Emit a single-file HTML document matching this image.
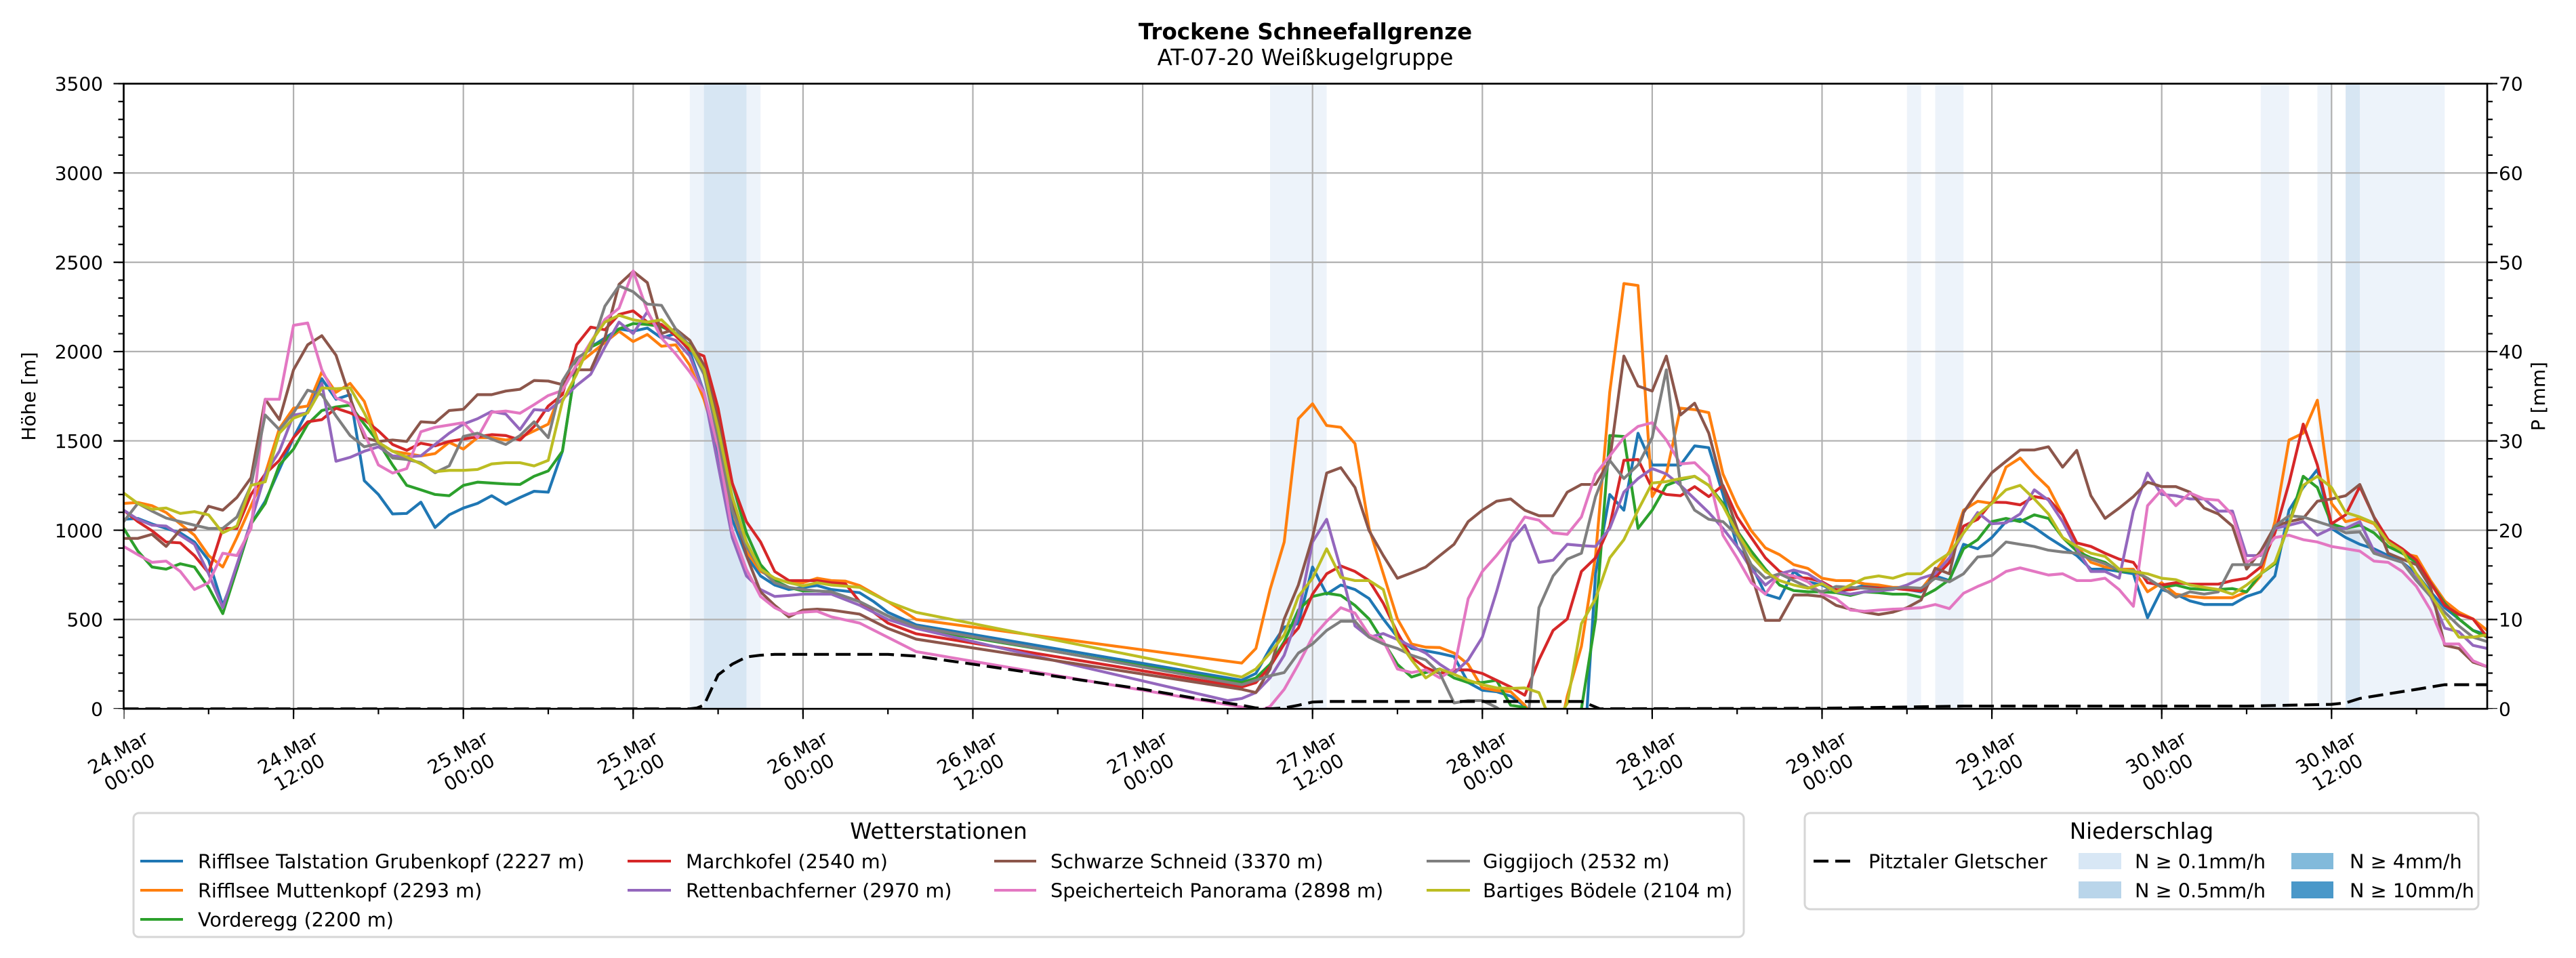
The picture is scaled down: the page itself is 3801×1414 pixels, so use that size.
<!DOCTYPE html>
<html><head><meta charset="utf-8"><style>html,body{margin:0;padding:0;background:#fff}svg{display:block}</style></head>
<body>
<svg xmlns="http://www.w3.org/2000/svg" width="3801" height="1414" viewBox="0 0 3801 1414" font-family="'DejaVu Sans','Liberation Sans',sans-serif">
<defs><clipPath id="c"><rect x="182.5" y="123.5" width="3487.5" height="922.7"/></clipPath></defs>
<rect width="3801" height="1414" fill="#fff"/>
<!-- precipitation bands -->
<g fill="#edf3fa">
<rect x="1017.8" y="123.5" width="104.4" height="922.7"/>
<rect x="1874" y="123.5" width="83.6" height="922.7"/>
<rect x="2813.8" y="123.5" width="20.8" height="922.7"/>
<rect x="2855.5" y="123.5" width="41.8" height="922.7"/>
<rect x="3335.8" y="123.5" width="41.8" height="922.7"/>
<rect x="3419.4" y="123.5" width="20.8" height="922.7"/>
<rect x="3482" y="123.5" width="125.3" height="922.7"/>
</g>
<g fill="#d7e6f3">
<rect x="1038.7" y="123.5" width="62.7" height="922.7"/>
<rect x="3461.1" y="123.5" width="20.9" height="922.7"/>
</g>
<!-- grid -->
<g stroke="#b0b0b0" stroke-width="2.2" fill="none">
<path d="M433.1,123.5V1046.2M683.7,123.5V1046.2M934.3,123.5V1046.2M1184.9,123.5V1046.2M1435.5,123.5V1046.2M1686.1,123.5V1046.2M1936.7,123.5V1046.2M2187.3,123.5V1046.2M2437.9,123.5V1046.2M2688.5,123.5V1046.2M2939.1,123.5V1046.2M3189.7,123.5V1046.2M3440.3,123.5V1046.2"/>
<path d="M182.5,914.4H3670M182.5,782.6H3670M182.5,650.7H3670M182.5,518.9H3670M182.5,387.1H3670M182.5,255.3H3670"/>
</g>
<!-- series -->
<g clip-path="url(#c)">
<g transform="translate(182.5,1046.2) scale(20.883,-0.26363)" fill="none" stroke-width="4.2" stroke-linejoin="round" stroke-linecap="square">
<polyline vector-effect="non-scaling-stroke" stroke="#1f77b4" points="0,1061 1,1066 2,1035 3,1010 4,985 5,934 6,832 7,579 8,782 9,1035 10,1162 11,1340 12,1518 13,1670 14,1848 15,1733 16,1759 17,1277 18,1200 19,1091 20,1094 21,1157 22,1015 23,1086 24,1124 25,1150 26,1193 27,1145 28,1183 29,1218 30,1213 31,1442 32,1949 33,2025 34,2076 35,2127 36,2114 37,2132 38,2076 39,2101 40,2000 41,1772 42,1442 43,1061 44,858 45,744 46,693 47,668 48,680 49,690 50,668 52,650 53,600 54,540 56,470 79,160 80,198 81,338 82,457 83,477 84,794 85,642 86,693 87,668 88,617 89,503 90,401 91,338 92,325 93,310 94,292 95,147 96,104 97,96 98,71 99,15 100,-100 101,-100 102,-100 103,-500 104,756 105,1200 106,1112 107,1543 108,1365 109,1365 110,1365 111,1472 112,1462 113,1200 114,909 115,807 116,642 117,617 118,769 119,711 120,693 121,655 122,668 123,693 124,680 125,675 126,668 127,655 128,744 129,718 130,921 131,896 132,959 133,1048 134,1061 135,1015 136,959 137,909 138,858 139,782 140,782 141,769 142,756 143,510 144,668 145,642 146,604 147,584 148,584 149,584 150,629 151,655 152,744 153,1112 154,1239 155,1340 156,1010 157,959 158,921 159,896 160,858 161,820 162,756 163,655 164,566 165,503 166,439 167,414"/>
<polyline vector-effect="non-scaling-stroke" stroke="#ff7f0e" points="0,1150 1,1155 2,1137 3,1099 4,1035 5,972 6,858 7,794 8,959 9,1137 10,1315 11,1569 12,1683 13,1695 14,1886 15,1772 16,1822 17,1721 18,1492 19,1442 20,1429 21,1416 22,1429 23,1492 24,1454 25,1518 26,1518 27,1505 28,1518 29,1556 30,1594 31,1797 32,1924 33,1987 34,2051 35,2114 36,2056 37,2096 38,2030 39,2038 40,1924 41,1733 42,1467 43,1112 44,883 45,770 46,731 47,706 48,706 49,731 50,718 51,715 52,690 54,600 56,500 79,256 80,338 81,668 82,934 83,1624 84,1708 85,1586 86,1576 87,1485 88,1010 89,756 90,503 91,363 92,345 93,343 94,312 95,249 96,117 97,102 98,96 99,20 100,-100 101,-300 102,71 103,350 104,858 105,1772 106,2381 107,2370 108,1188 109,1315 110,1683 111,1675 112,1658 113,1315 114,1137 115,997 116,901 117,863 118,807 119,786 120,731 121,718 122,718 123,700 124,693 125,680 126,680 127,668 128,769 129,880 130,1112 131,1162 132,1150 133,1353 134,1404 135,1315 136,1239 137,1086 138,909 139,820 140,794 141,782 142,782 143,655 144,706 145,642 146,629 147,622 148,622 149,622 150,655 151,744 152,1048 153,1505 154,1543 155,1728 156,1150 157,1048 158,1066 159,1036 160,934 161,871 162,853 163,718 164,604 165,541 166,503 167,439"/>
<polyline vector-effect="non-scaling-stroke" stroke="#2ca02c" points="0,1010 1,883 2,794 3,782 4,812 5,794 6,680 7,533 8,782 9,1035 10,1150 11,1365 12,1454 13,1594 14,1670 15,1690 16,1700 17,1594 18,1492 19,1365 20,1251 21,1226 22,1200 23,1193 24,1251 25,1269 26,1264 27,1259 28,1256 29,1302 30,1332 31,1442 32,1949 33,2025 34,2063 35,2127 36,2157 37,2152 38,2140 39,2101 40,2038 41,1924 42,1619 43,1264 44,985 45,807 46,718 47,680 48,660 49,660 50,655 52,600 53,560 54,520 56,450 79,147 80,173 81,249 82,376 83,553 84,629 85,647 86,635 87,579 88,503 89,376 90,249 91,178 92,203 93,223 94,173 95,147 96,147 97,160 98,20 99,8 100,-100 101,-100 102,-100 103,0 104,500 105,1530 106,1525 107,1010 108,1112 109,1251 110,1282 111,1302 112,1251 113,1150 114,997 115,883 116,782 117,693 118,662 119,655 120,655 121,650 122,635 123,655 124,650 125,642 126,642 127,624 128,667 129,723 130,896 131,947 132,1048 133,1066 134,1048 135,1086 136,1066 137,959 138,883 139,845 140,820 141,769 142,769 143,731 144,680 145,693 146,673 147,668 148,668 149,673 150,655 151,756 152,812 153,1036 154,1302 155,1239 156,1036 157,1010 158,1028 159,985 160,909 161,871 162,820 163,706 164,591 165,503 166,439 167,401"/>
<polyline vector-effect="non-scaling-stroke" stroke="#d62728" points="0,1112 1,1048 2,997 3,934 4,929 5,858 6,761 7,1010 8,1010 9,1200 10,1315 11,1391 12,1518 13,1607 14,1619 15,1683 16,1657 17,1619 18,1556 19,1480 20,1447 21,1487 22,1472 23,1497 24,1510 25,1523 26,1535 27,1530 28,1505 29,1581 30,1695 31,1759 32,2038 33,2137 34,2122 35,2208 36,2228 37,2165 38,2152 39,2089 40,2008 41,1975 42,1683 43,1264 44,1048 45,934 46,769 47,718 48,718 49,718 50,706 51,700 52,600 54,480 56,420 79,122 80,147 81,236 82,363 83,452 84,642 85,756 86,800 87,769 88,718 89,591 90,426 91,287 92,231 93,198 94,218 95,218 96,198 97,160 98,122 99,76 100,274 101,439 102,503 103,769 104,845 105,1023 106,1391 107,1396 108,1234 109,1200 110,1193 111,1244 112,1188 113,1251 114,1074 115,959 116,845 117,769 118,736 119,731 120,711 121,667 122,667 123,680 124,675 125,675 126,667 127,660 128,736 129,820 130,1023 131,1061 132,1157 133,1155 134,1142 135,1188 136,1175 137,1086 138,929 139,909 140,871 141,838 142,820 143,706 144,693 145,706 146,698 147,698 148,698 149,718 150,731 151,794 152,985 153,1264 154,1594 155,1365 156,1036 157,1086 158,1244 159,1074 160,947 161,896 162,832 163,706 164,579 165,528 166,503 167,401"/>
<polyline vector-effect="non-scaling-stroke" stroke="#9467bd" points="0,1112 1,1061 2,1028 3,1023 4,972 5,921 6,756 7,566 8,807 9,1048 10,1315 11,1442 12,1645 13,1657 14,1822 15,1386 16,1408 17,1442 18,1467 19,1416 20,1411 21,1416 22,1480 23,1543 24,1594 25,1624 26,1665 27,1650 28,1563 29,1675 30,1670 31,1733 32,1810 33,1873 34,2025 35,2165 36,2101 37,2223 38,2089 39,2063 40,1975 41,1772 42,1365 43,959 44,744 45,668 46,629 47,635 48,642 49,642 50,642 52,580 54,500 56,450 78,46 79,58 80,91 81,173 82,300 83,528 84,934 85,1061 86,782 87,464 88,401 89,421 90,388 91,350 92,312 93,249 94,198 95,274 96,401 97,655 98,934 99,1028 100,820 101,832 102,921 103,914 104,909 105,1010 106,1213 107,1289 108,1345 109,1315 110,1251 111,1175 112,1099 113,1010 114,909 115,782 116,693 117,756 118,777 119,756 120,706 121,655 122,642 123,655 124,660 125,668 126,693 127,731 128,756 129,845 130,985 131,1099 132,1036 133,1041 134,1091 135,1226 136,1168 137,1048 138,896 139,769 140,769 141,731 142,1107 143,1320 144,1200 145,1193 146,1175 147,1175 148,1107 149,1107 150,858 151,858 152,1010 153,1028 154,1048 155,972 156,1010 157,1010 158,1048 159,883 160,845 161,820 162,731 163,629 164,452 165,431 166,355 167,338"/>
<polyline vector-effect="non-scaling-stroke" stroke="#8c564b" points="0,954 1,954 2,977 3,909 4,1002 5,1002 6,1134 7,1112 8,1183 9,1294 10,1733 11,1619 12,1898 13,2038 14,2089 15,1980 16,1741 17,1518 18,1497 19,1505 20,1497 21,1607 22,1602 23,1670 24,1677 25,1759 26,1759 27,1779 28,1789 29,1838 30,1835 31,1815 32,1898 33,1898 34,2076 35,2376 36,2449 37,2386 38,2101 39,2127 40,2063 41,1924 42,1619 43,1162 44,858 45,655 46,579 47,515 48,553 49,558 50,553 52,530 54,450 56,390 79,109 80,91 81,223 82,503 83,693 84,959 85,1320 86,1350 87,1239 88,997 89,858 90,731 91,761 92,794 93,858 94,921 95,1048 96,1112 97,1162 98,1175 99,1112 100,1081 101,1081 102,1213 103,1256 104,1256 105,1391 106,1975 107,1807 108,1779 109,1975 110,1645 111,1711 112,1543 113,1239 114,1010 115,756 116,495 117,495 118,637 119,637 120,629 121,579 122,558 123,541 124,528 125,541 126,566 127,609 128,787 129,756 130,1099 131,1218 132,1322 133,1386 134,1449 135,1449 136,1467 137,1353 138,1447 139,1193 140,1066 141,1124 142,1188 143,1269 144,1244 145,1244 146,1213 147,1124 148,1091 149,1023 150,782 151,883 152,1023 153,1048 154,1066 155,1162 156,1175 157,1193 158,1256 159,1074 160,871 161,838 162,807 163,680 164,355 165,338 166,261 167,236"/>
<polyline vector-effect="non-scaling-stroke" stroke="#e377c2" points="0,909 1,863 2,820 3,827 4,769 5,668 6,706 7,871 8,858 9,1010 10,1733 11,1733 12,2147 13,2160 14,1898 15,1741 16,1708 17,1543 18,1365 19,1320 20,1345 21,1551 22,1576 23,1589 24,1602 25,1518 26,1660 27,1667 28,1655 29,1703 30,1754 31,1782 32,1926 33,2053 34,2180 35,2243 36,2452 37,2228 38,2076 39,1987 40,1886 41,1772 42,1467 43,997 44,781 45,629 46,566 47,528 48,541 49,546 50,515 52,480 54,400 56,320 79,10 80,-20 81,13 82,109 83,249 84,401 85,490 86,566 87,536 88,414 89,381 90,223 91,203 92,218 93,173 94,223 95,617 96,769 97,858 98,959 99,1074 100,1056 101,985 102,977 103,1074 104,1315 105,1416 106,1518 107,1581 108,1602 109,1505 110,1371 111,1378 112,1302 113,972 114,845 115,706 116,642 117,756 118,744 119,711 120,642 121,617 122,553 123,546 124,553 125,558 126,561 127,566 128,584 129,561 130,647 131,685 132,718 133,769 134,789 135,769 136,749 137,756 138,718 139,718 140,731 141,667 142,574 143,1137 144,1226 145,1137 146,1208 147,1175 148,1168 149,1086 150,820 151,863 152,959 153,972 154,947 155,934 156,909 157,896 158,883 159,827 160,820 161,769 162,685 163,553 164,363 165,363 166,269 167,236"/>
<polyline vector-effect="non-scaling-stroke" stroke="#7f7f7f" points="0,1048 1,1150 2,1107 3,1068 4,1048 5,1028 6,1010 7,1010 8,1074 9,1251 10,1645 11,1563 12,1657 13,1784 14,1759 15,1640 16,1530 17,1467 18,1485 19,1404 20,1396 21,1378 22,1322 23,1360 24,1525 25,1543 26,1510 27,1480 28,1530 29,1607 30,1518 31,1835 32,1962 33,2013 34,2254 35,2368 36,2335 37,2266 38,2259 39,2127 40,2030 41,1873 42,1518 43,1112 44,909 45,782 46,706 47,680 48,668 49,660 50,655 52,600 54,520 56,460 79,135 80,160 81,185 82,203 83,312 84,363 85,439 86,490 87,490 88,401 89,363 90,338 91,300 92,274 93,198 94,33 95,46 96,46 97,8 98,-50 99,-240 100,566 101,744 102,838 103,871 104,1188 105,1391 106,1289 107,1365 108,1518 109,1898 110,1251 111,1112 112,1061 113,1048 114,972 115,807 116,731 117,756 118,718 119,680 120,655 121,685 122,680 123,675 124,668 125,675 126,680 127,675 128,731 129,711 130,756 131,850 132,858 133,934 134,921 135,909 136,888 137,878 138,871 139,838 140,812 141,777 142,774 143,731 144,680 145,624 146,655 147,642 148,655 149,807 150,807 151,807 152,1023 153,1081 154,1074 155,1048 156,1023 157,985 158,990 159,871 160,845 161,820 162,718 163,629 164,541 165,464 166,401 167,376"/>
<polyline vector-effect="non-scaling-stroke" stroke="#bcbd22" points="0,1208 1,1150 2,1117 3,1124 4,1094 5,1104 6,1086 7,985 8,1023 9,1251 10,1271 11,1543 12,1627 13,1657 14,1797 15,1792 16,1797 17,1657 18,1492 19,1442 20,1409 21,1371 22,1328 23,1335 24,1335 25,1340 26,1371 27,1378 28,1378 29,1360 30,1391 31,1721 32,1873 33,2051 34,2165 35,2203 36,2178 37,2165 38,2178 39,2101 40,2030 41,1898 42,1569 43,1188 44,934 45,782 46,731 47,706 48,688 49,706 50,693 52,680 54,600 56,540 79,178 80,223 81,312 82,414 83,629 84,731 85,896 86,736 87,718 88,718 89,668 90,388 91,274 92,173 93,223 94,193 95,160 96,135 97,117 98,114 99,117 100,91 101,-100 102,30 103,477 104,617 105,845 106,947 107,1112 108,1264 109,1272 110,1289 111,1302 112,1251 113,1137 114,985 115,858 116,769 117,718 118,693 119,675 120,700 121,655 122,693 123,731 124,744 125,731 126,756 127,756 128,820 129,871 130,985 131,1086 132,1150 133,1226 134,1251 135,1175 136,1091 137,959 138,909 139,871 140,853 141,782 142,769 143,756 144,731 145,723 146,693 147,680 148,668 149,642 150,693 151,756 152,820 153,1036 154,1251 155,1302 156,1239 157,1099 158,1074 159,1041 160,934 161,883 162,756 163,642 164,515 165,401 166,401 167,414"/>
</g>
<polyline fill="none" stroke="#000" stroke-width="4.2" stroke-dasharray="22 10" points="182.5,1046.2 1017.8,1046.2 1028.3,1044.9 1038.7,1040.9 1059.6,996.1 1080.5,980.3 1101.4,969.7 1122.2,967.1 1143.1,965.8 1310.2,965.8 1351.9,968.4 1435.5,980.3 1560.8,998.7 1686.1,1017.2 1769.6,1031.7 1832.3,1040.9 1853.1,1044.9 1874,1046.2 1894.9,1044.9 1915.8,1040.9 1936.7,1036.2 1957.6,1035.4 2333.4,1035.4 2348,1040.9 2360.6,1046.2 2688.5,1045.4 2897.3,1042.2 3315,1042.2 3377.6,1040.9 3440.2,1039.6 3461.1,1037.5 3482,1030.9 3523.8,1024.1 3565.5,1017.5 3586.4,1014 3607.3,1010.6 3670,1010.6"/>
</g>
<!-- spines -->
<rect x="182.5" y="123.5" width="3487.5" height="922.7" fill="none" stroke="#000" stroke-width="2.7"/>
<!-- ticks -->
<g stroke="#000" fill="none">
<path d="M175,1046.2V120" stroke-width="15" stroke-dasharray="2.2 129.62" stroke-dashoffset="1.1"/>
<path d="M178.5,1046.2V120" stroke-width="8" stroke-dasharray="2.2 24.163" stroke-dashoffset="1.1"/>
<path d="M3677.5,1046.2V120" stroke-width="15" stroke-dasharray="2.2 129.62" stroke-dashoffset="1.1"/>
<path d="M3674,1046.2V120" stroke-width="8" stroke-dasharray="2.2 24.163" stroke-dashoffset="1.1"/>
<path d="M182.5,1053.7H3672" stroke-width="15" stroke-dasharray="2.2 248.4" stroke-dashoffset="1.1"/>
<path d="M182.5,1050.2H3672" stroke-width="8" stroke-dasharray="2.2 123.1" stroke-dashoffset="1.1"/>
</g>
<!-- tick labels -->
<g font-size="28" fill="#000" text-anchor="end">
<text x="152" y="1056.4">0</text>
<text x="152" y="924.6">500</text>
<text x="152" y="792.8">1000</text>
<text x="152" y="660.9">1500</text>
<text x="152" y="529.1">2000</text>
<text x="152" y="397.3">2500</text>
<text x="152" y="265.5">3000</text>
<text x="152" y="133.7">3500</text>
</g>
<g font-size="28" fill="#000" text-anchor="start">
<text x="3687" y="1056.4">0</text>
<text x="3687" y="924.6">10</text>
<text x="3687" y="792.8">20</text>
<text x="3687" y="660.9">30</text>
<text x="3687" y="529.1">40</text>
<text x="3687" y="397.3">50</text>
<text x="3687" y="265.5">60</text>
<text x="3687" y="133.7">70</text>
</g>
<g font-size="28" fill="#000" text-anchor="middle">
<text transform="translate(182.5,1125) rotate(-30)"><tspan x="0" y="-6.6">24.Mar</tspan><tspan x="0" y="27">00:00</tspan></text>
<text transform="translate(433.1,1125) rotate(-30)"><tspan x="0" y="-6.6">24.Mar</tspan><tspan x="0" y="27">12:00</tspan></text>
<text transform="translate(683.7,1125) rotate(-30)"><tspan x="0" y="-6.6">25.Mar</tspan><tspan x="0" y="27">00:00</tspan></text>
<text transform="translate(934.3,1125) rotate(-30)"><tspan x="0" y="-6.6">25.Mar</tspan><tspan x="0" y="27">12:00</tspan></text>
<text transform="translate(1184.9,1125) rotate(-30)"><tspan x="0" y="-6.6">26.Mar</tspan><tspan x="0" y="27">00:00</tspan></text>
<text transform="translate(1435.5,1125) rotate(-30)"><tspan x="0" y="-6.6">26.Mar</tspan><tspan x="0" y="27">12:00</tspan></text>
<text transform="translate(1686.1,1125) rotate(-30)"><tspan x="0" y="-6.6">27.Mar</tspan><tspan x="0" y="27">00:00</tspan></text>
<text transform="translate(1936.7,1125) rotate(-30)"><tspan x="0" y="-6.6">27.Mar</tspan><tspan x="0" y="27">12:00</tspan></text>
<text transform="translate(2187.3,1125) rotate(-30)"><tspan x="0" y="-6.6">28.Mar</tspan><tspan x="0" y="27">00:00</tspan></text>
<text transform="translate(2437.9,1125) rotate(-30)"><tspan x="0" y="-6.6">28.Mar</tspan><tspan x="0" y="27">12:00</tspan></text>
<text transform="translate(2688.5,1125) rotate(-30)"><tspan x="0" y="-6.6">29.Mar</tspan><tspan x="0" y="27">00:00</tspan></text>
<text transform="translate(2939.1,1125) rotate(-30)"><tspan x="0" y="-6.6">29.Mar</tspan><tspan x="0" y="27">12:00</tspan></text>
<text transform="translate(3189.7,1125) rotate(-30)"><tspan x="0" y="-6.6">30.Mar</tspan><tspan x="0" y="27">00:00</tspan></text>
<text transform="translate(3440.3,1125) rotate(-30)"><tspan x="0" y="-6.6">30.Mar</tspan><tspan x="0" y="27">12:00</tspan></text>
</g>
<!-- axis labels -->
<text transform="translate(52,585) rotate(-90)" text-anchor="middle" font-size="28">Höhe [m]</text>
<text transform="translate(3755,585) rotate(-90)" text-anchor="middle" font-size="28">P [mm]</text>
<!-- titles -->
<text x="1926" y="58" text-anchor="middle" font-size="32.5" font-weight="bold">Trockene Schneefallgrenze</text>
<text x="1926" y="96" text-anchor="middle" font-size="32.5">AT-07-20 Weißkugelgruppe</text>
<!-- legend 1 -->
<rect x="197" y="1200" width="2376" height="183" rx="8" fill="#fff" stroke="#d6d6d6" stroke-width="3"/>
<text x="1385" y="1238" text-anchor="middle" font-size="32.5">Wetterstationen</text>
<g stroke-width="4">
<line x1="207" y1="1271" x2="270" y2="1271" stroke="#1f77b4"/>
<line x1="207" y1="1314" x2="270" y2="1314" stroke="#ff7f0e"/>
<line x1="207" y1="1357" x2="270" y2="1357" stroke="#2ca02c"/>
<line x1="926" y1="1271" x2="990" y2="1271" stroke="#d62728"/>
<line x1="926" y1="1314" x2="990" y2="1314" stroke="#9467bd"/>
<line x1="1467" y1="1271" x2="1529" y2="1271" stroke="#8c564b"/>
<line x1="1467" y1="1314" x2="1529" y2="1314" stroke="#e377c2"/>
<line x1="2105" y1="1271" x2="2169" y2="1271" stroke="#7f7f7f"/>
<line x1="2105" y1="1314" x2="2169" y2="1314" stroke="#bcbd22"/>
</g>
<g font-size="28.7" fill="#000">
<text x="292" y="1281.5">Rifflsee Talstation Grubenkopf (2227 m)</text>
<text x="292" y="1324.5">Rifflsee Muttenkopf (2293 m)</text>
<text x="292" y="1367.5">Vorderegg (2200 m)</text>
<text x="1012" y="1281.5">Marchkofel (2540 m)</text>
<text x="1012" y="1324.5">Rettenbachferner (2970 m)</text>
<text x="1550" y="1281.5">Schwarze Schneid (3370 m)</text>
<text x="1550" y="1324.5">Speicherteich Panorama (2898 m)</text>
<text x="2188" y="1281.5">Giggijoch (2532 m)</text>
<text x="2188" y="1324.5">Bartiges Bödele (2104 m)</text>
</g>
<!-- legend 2 -->
<rect x="2663" y="1200" width="994" height="142" rx="8" fill="#fff" stroke="#d6d6d6" stroke-width="3"/>
<text x="3160" y="1238" text-anchor="middle" font-size="32.5">Niederschlag</text>
<line x1="2676" y1="1271" x2="2732" y2="1271" stroke="#000" stroke-width="4.2" stroke-dasharray="22 10"/>
<rect x="3067" y="1259" width="63" height="24" fill="#d8e7f5"/>
<rect x="3067" y="1301" width="63" height="25" fill="#b9d5ea"/>
<rect x="3381" y="1259" width="62" height="24" fill="#82badb"/>
<rect x="3381" y="1301" width="62" height="25" fill="#4a98c9"/>
<g font-size="28.7" fill="#000">
<text x="2757" y="1281.5">Pitztaler Gletscher</text>
<text x="3150" y="1281.5">N ≥ 0.1mm/h</text>
<text x="3150" y="1324.5">N ≥ 0.5mm/h</text>
<text x="3467" y="1281.5">N ≥ 4mm/h</text>
<text x="3467" y="1324.5">N ≥ 10mm/h</text>
</g>
</svg>
</body></html>
